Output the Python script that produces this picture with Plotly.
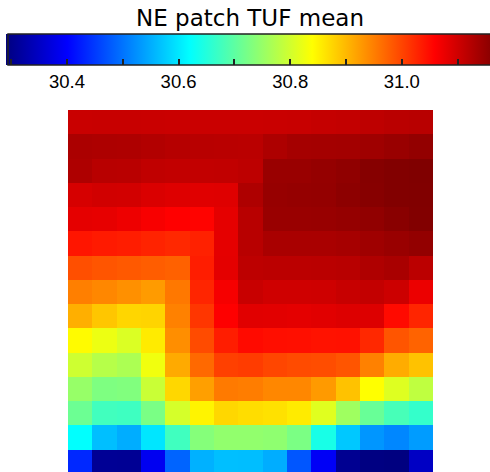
import plotly.graph_objects as go

# 15 x 15 grid of mean TUF values, listed from the top row down, west to east
row_00 = [31.105, 31.106, 31.106, 31.105, 31.104, 31.104, 31.104, 31.104, 31.105, 31.106, 31.108, 31.110, 31.114, 31.118, 31.120]
row_01 = [31.131, 31.129, 31.128, 31.125, 31.121, 31.120, 31.119, 31.118, 31.129, 31.136, 31.137, 31.138, 31.141, 31.146, 31.152]
row_02 = [31.128, 31.120, 31.119, 31.113, 31.111, 31.111, 31.112, 31.115, 31.146, 31.146, 31.150, 31.154, 31.163, 31.166, 31.168]
row_03 = [31.094, 31.098, 31.097, 31.090, 31.087, 31.085, 31.086, 31.128, 31.148, 31.150, 31.151, 31.157, 31.162, 31.166, 31.167]
row_04 = [31.081, 31.079, 31.073, 31.064, 31.058, 31.056, 31.081, 31.120, 31.146, 31.146, 31.147, 31.150, 31.153, 31.160, 31.166]
row_05 = [31.040, 31.036, 31.033, 31.028, 31.024, 31.030, 31.081, 31.120, 31.133, 31.133, 31.133, 31.135, 31.141, 31.146, 31.152]
row_06 = [30.990, 30.985, 30.982, 30.978, 30.975, 31.033, 31.082, 31.115, 31.117, 31.117, 31.118, 31.120, 31.127, 31.133, 31.117]
row_07 = [30.949, 30.942, 30.934, 30.925, 30.955, 31.026, 31.066, 31.106, 31.100, 31.100, 31.101, 31.107, 31.110, 31.102, 31.075]
row_08 = [30.908, 30.888, 30.874, 30.876, 30.947, 31.012, 31.059, 31.084, 31.083, 31.082, 31.084, 31.088, 31.088, 31.050, 31.026]
row_09 = [30.842, 30.823, 30.808, 30.856, 30.936, 30.994, 31.033, 31.050, 31.046, 31.045, 31.043, 31.044, 31.024, 30.985, 30.973]
row_10 = [30.797, 30.776, 30.767, 30.827, 30.912, 30.968, 31.003, 31.007, 30.998, 30.994, 30.992, 30.985, 30.947, 30.910, 30.891]
row_11 = [30.749, 30.728, 30.730, 30.792, 30.873, 30.921, 30.953, 30.951, 30.942, 30.942, 30.926, 30.891, 30.839, 30.810, 30.784]
row_12 = [30.712, 30.675, 30.673, 30.724, 30.803, 30.848, 30.873, 30.868, 30.865, 30.856, 30.812, 30.756, 30.709, 30.680, 30.664]
row_13 = [30.620, 30.564, 30.549, 30.598, 30.674, 30.734, 30.745, 30.745, 30.742, 30.725, 30.640, 30.572, 30.529, 30.516, 30.534]
row_14 = [30.434, 30.308, 30.307, 30.388, 30.486, 30.552, 30.564, 30.563, 30.549, 30.474, 30.392, 30.305, 30.292, 30.290, 30.349]

tuf_rows = [row_00, row_01, row_02, row_03, row_04, row_05, row_06, row_07,
            row_08, row_09, row_10, row_11, row_12, row_13, row_14]

# colour bar ticks: every 0.1, labelled every 0.2
bar_ticks = [30.3, 30.4, 30.5, 30.6, 30.7, 30.8, 30.9, 31.0, 31.1]
bar_labels = ["", "30.4", "", "30.6", "", "30.8", "", "31.0", ""]

title_text = "NE patch TUF mean"

W, H = 490, 472

# classic "jet" ramp: dark blue -> blue -> cyan -> yellow -> red -> dark red
jet = [
    [0.0, "rgb(0,0,128)"],
    [0.125, "rgb(0,0,255)"],
    [0.375, "rgb(0,255,255)"],
    [0.625, "rgb(255,255,0)"],
    [0.875, "rgb(255,0,0)"],
    [1.0, "rgb(128,0,0)"],
]

zmin = min(min(r) for r in tuf_rows)
zmax = max(max(r) for r in tuf_rows)

n_rows = len(tuf_rows)
n_cols = len(row_00)

fig = go.Figure(
    go.Heatmap(
        z=tuf_rows,
        x=list(range(n_cols)),
        y=list(range(n_rows)),
        colorscale=jet,
        zmin=zmin,
        zmax=zmax,
        hoverinfo="skip",
        colorbar=dict(
            orientation="h",
            xref="container",
            yref="container",
            x=7.5 / W,
            xanchor="left",
            y=1 - 34 / H,
            yanchor="top",
            len=490,
            lenmode="pixels",
            thickness=31,
            thicknessmode="pixels",
            outlinewidth=1.5,
            outlinecolor="#222",
            borderwidth=0,
            xpad=0,
            ypad=0,
            ticks="inside",
            ticklen=6,
            tickwidth=1.5,
            tickcolor="#222",
            tickvals=bar_ticks,
            ticktext=bar_labels,
            tickfont=dict(family="Liberation Sans", size=18.5, color="black"),
        ),
    )
)

fig.update_layout(
    width=W,
    height=H,
    margin=dict(l=68, r=57, t=110, b=0, pad=0),
    paper_bgcolor="white",
    plot_bgcolor="white",
    title=dict(
        text=title_text,
        font=dict(family="DejaVu Sans", size=23, color="black"),
        x=250 / W,
        xanchor="center",
        xref="container",
        y=1 - 10 / H,
        yanchor="top",
        yref="container",
    ),
    xaxis=dict(visible=False, range=[-0.5, n_cols - 0.5]),
    yaxis=dict(visible=False, range=[n_rows - 0.5 - 0.081, -0.5]),
)

fig.write_html("out.html")
